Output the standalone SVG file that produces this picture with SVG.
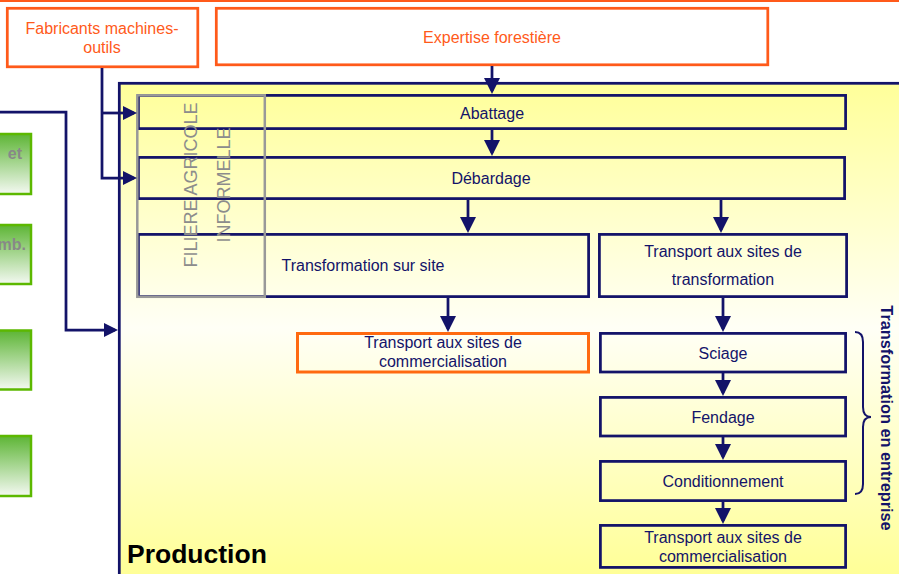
<svg xmlns="http://www.w3.org/2000/svg" width="899" height="574" viewBox="0 0 899 574">
<defs>
<linearGradient id="prodGrad" gradientUnits="userSpaceOnUse" x1="0" y1="82" x2="0" y2="574">
<stop offset="0" stop-color="#FFFF99"/>
<stop offset="0.5" stop-color="#FFFFF6"/>
<stop offset="1" stop-color="#FFFF97"/>
</linearGradient>
<linearGradient id="greenGrad" x1="0" y1="0" x2="0" y2="1">
<stop offset="0" stop-color="#5DB535"/>
<stop offset="1" stop-color="#F4F9F2"/>
</linearGradient>
<marker id="arr" markerUnits="userSpaceOnUse" markerWidth="16" markerHeight="16" refX="13" refY="8" orient="auto">
<path d="M0,0 L16,8 L0,16 z" fill="#131369"/>
</marker>
<marker id="arrS" markerUnits="userSpaceOnUse" markerWidth="14" markerHeight="14" refX="11" refY="7" orient="auto">
<path d="M0,0 L14,7 L0,14 z" fill="#131369"/>
</marker>
</defs>
<style>
.lbl{font-family:"Liberation Sans",Arial,sans-serif;font-size:16px;fill:#131369;text-anchor:middle}
.olbl{font-family:"Liberation Sans",Arial,sans-serif;font-size:16px;fill:#FF5A1A;text-anchor:middle}
.nbox{fill:none;stroke:#131369;stroke-width:2.75}
.obox{fill:#FFFFFF;stroke:#FF5A1A;stroke-width:2.75}
.gbox{fill:url(#greenGrad);stroke:#5CB800;stroke-width:2.5}
.gtxt{font-family:"Liberation Sans",Arial,sans-serif;font-size:16px;font-weight:bold;fill:#888888;text-anchor:end}
.conn{fill:none;stroke:#131369;stroke-width:2.75}
</style>
<rect x="0" y="0" width="899" height="574" fill="#FFFFFF"/>
<line x1="0" y1="1" x2="899" y2="1" stroke="#FF5A1A" stroke-width="2"/>

<g id="green1"><rect class="gbox" x="-10" y="134" width="41" height="60"/><text class="gtxt" x="22" y="159">et</text></g>
<g id="green2"><rect class="gbox" x="-10" y="225" width="41" height="59"/><text class="gtxt" x="26" y="250">mb.</text></g>
<g id="green3"><rect class="gbox" x="-10" y="330.5" width="41" height="59"/></g>
<g id="green4"><rect class="gbox" x="-10" y="436" width="41" height="60"/></g>

<g id="fabricants"><rect class="obox" x="7.3" y="8.3" width="190.5" height="58.5"/>
<text class="olbl" x="102" y="34">Fabricants machines-</text><text class="olbl" x="102" y="53">outils</text></g>
<g id="expertise"><rect class="obox" x="216.3" y="8.3" width="551.5" height="56.5"/>
<text class="olbl" x="492" y="43">Expertise forestière</text></g>

<g id="production"><rect x="119.3" y="83.3" width="800" height="600" fill="url(#prodGrad)" stroke="#131369" stroke-width="2.75"/>
<text x="127" y="563" font-family="Liberation Sans, Arial, sans-serif" font-size="26.5" font-weight="bold" fill="#000000">Production</text></g>

<g id="abattage"><rect class="nbox" x="138.4" y="95.4" width="707.2" height="33.2"/><text class="lbl" x="492" y="119">Abattage</text></g>
<g id="debardage"><rect class="nbox" x="138.4" y="157.4" width="706.2" height="41.2"/><text class="lbl" x="491" y="184">Débardage</text></g>
<g id="transfSite"><rect class="nbox" x="138.4" y="234.4" width="450.2" height="62.2"/><text class="lbl" x="363" y="271">Transformation sur site</text></g>
<g id="transpTransf"><rect class="nbox" x="599.4" y="234.4" width="247.2" height="62.2"/>
<text class="lbl" x="723" y="257">Transport aux sites de</text><text class="lbl" x="723" y="285">transformation</text></g>
<g id="transpComm1"><rect x="297.5" y="333.5" width="291" height="38.5" fill="none" stroke="#FF6A10" stroke-width="3"/>
<text class="lbl" x="443" y="348">Transport aux sites de</text><text class="lbl" x="443" y="367">commercialisation</text></g>
<g id="sciage"><rect class="nbox" x="600.4" y="333.4" width="245.2" height="38.6"/><text class="lbl" x="723" y="359">Sciage</text></g>
<g id="fendage"><rect class="nbox" x="600.4" y="397.4" width="245.2" height="38.6"/><text class="lbl" x="723" y="423">Fendage</text></g>
<g id="conditionnement"><rect class="nbox" x="600.4" y="461.4" width="245.2" height="39.2"/><text class="lbl" x="723" y="487">Conditionnement</text></g>
<g id="transpComm2"><rect class="nbox" x="600.4" y="525.4" width="245.2" height="42"/>
<text class="lbl" x="723" y="543">Transport aux sites de</text><text class="lbl" x="723" y="562">commercialisation</text></g>

<g id="filiere"><rect x="137.3" y="95.3" width="127.5" height="201.5" fill="none" stroke="#999999" stroke-width="2.5"/>
<text transform="translate(197,185) rotate(-90)" font-family="Liberation Sans, Arial, sans-serif" font-size="18" fill="#8C8C8C" text-anchor="middle">FILIERE AGRICOLE</text>
<text transform="translate(230,185) rotate(-90)" font-family="Liberation Sans, Arial, sans-serif" font-size="18" fill="#8C8C8C" text-anchor="middle">INFORMELLE</text></g>

<g id="entreprise"><path d="M855,332 Q863,332 863,342 V407 Q863,417 871,417 Q863,417 863,427 V484 Q863,494 855,494" fill="none" stroke="#131369" stroke-width="2"/>
<text transform="translate(881,418) rotate(90)" font-family="Liberation Sans, Arial, sans-serif" font-size="16.3" font-weight="bold" fill="#131369" text-anchor="middle">Transformation en entreprise</text></g>

<g id="connectors">
<path class="conn" d="M492,66 V91" marker-end="url(#arr)"/>
<path class="conn" d="M492,130 V153" marker-end="url(#arr)"/>
<path class="conn" d="M468,200 V230" marker-end="url(#arr)"/>
<path class="conn" d="M721,200 V230" marker-end="url(#arr)"/>
<path class="conn" d="M448,298 V329" marker-end="url(#arr)"/>
<path class="conn" d="M723,298 V329" marker-end="url(#arr)"/>
<path class="conn" d="M723,373 V393" marker-end="url(#arr)"/>
<path class="conn" d="M723,437 V457" marker-end="url(#arr)"/>
<path class="conn" d="M723,502 V521" marker-end="url(#arr)"/>
<path class="conn" d="M102,68 V178 H134" marker-end="url(#arrS)"/>
<path class="conn" d="M102,113 H134" marker-end="url(#arrS)"/>
<path class="conn" d="M0,112 H66 V330 H115" marker-end="url(#arrS)"/>
</g>
</svg>
